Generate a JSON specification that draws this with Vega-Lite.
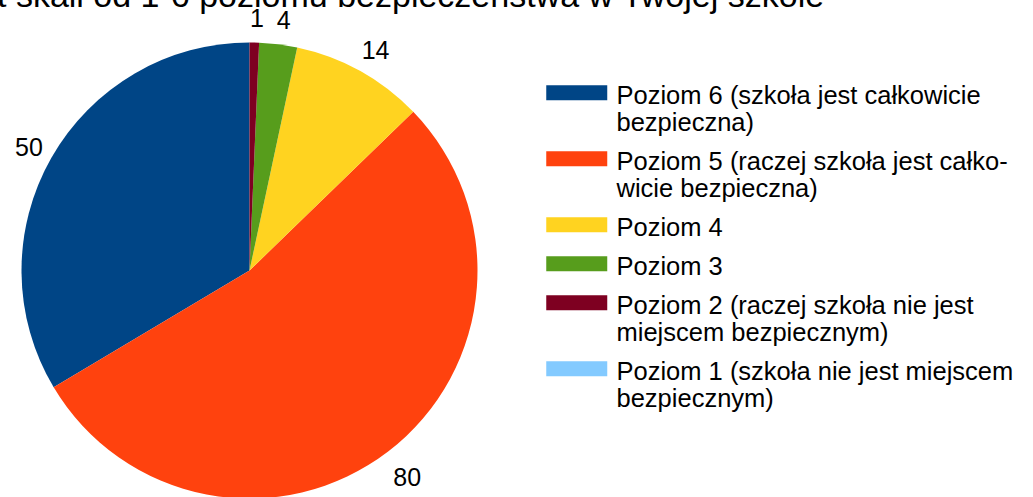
{
  "$schema": "https://vega.github.io/schema/vega-lite/v6.json",
  "width": 499,
  "height": 541,
  "autosize": {"type": "none"},
  "padding": {"left": 0, "top": 0, "right": 534, "bottom": 0},
  "background": "white",
  "title": {
    "text": "t skali od 1-6 poziomu bezpieczeństwa w Twojej szkole",
    "anchor": "start",
    "orient": "top",
    "font": "Liberation Sans",
    "fontSize": 34,
    "fontWeight": "normal",
    "color": "black",
    "baseline": "alphabetic",
    "offset": -41,
    "dx": -3
  },
  "config": {"view": {"stroke": null}},
  "data": {
    "values": [
      {"poziom": "Poziom 6", "value": 50, "ord": 6},
      {"poziom": "Poziom 5", "value": 80, "ord": 5},
      {"poziom": "Poziom 4", "value": 14, "ord": 4},
      {"poziom": "Poziom 3", "value": 4, "ord": 3},
      {"poziom": "Poziom 2", "value": 1, "ord": 2},
      {"poziom": "Poziom 1", "value": 0, "ord": 1}
    ]
  },
  "encoding": {
    "theta": {"field": "value", "type": "quantitative", "stack": true},
    "order": {"field": "ord", "type": "quantitative", "sort": "ascending"}
  },
  "layer": [
    {
      "mark": {"type": "arc", "radius": 228},
      "encoding": {
        "color": {
          "field": "poziom",
          "type": "nominal",
          "scale": {
            "domain": ["Poziom 6", "Poziom 5", "Poziom 4", "Poziom 3", "Poziom 2", "Poziom 1"],
            "range": ["#004586", "#ff420e", "#ffd320", "#579d1c", "#7e0021", "#83caff"]
          },
          "legend": {
            "title": null,
            "orient": "none",
            "legendX": 541,
            "legendY": 71,
            "symbolType": "M-1,0.2H7.133V2.2H-1Z",
            "symbolSize": 225,
            "symbolStrokeWidth": 0,
            "symbolOpacity": 1,
            "labelFont": "Liberation Sans",
            "labelFontSize": 25.5,
            "labelLineHeight": 29,
            "labelColor": "black",
            "labelOffset": 50,
            "labelLimit": 600,
            "labelBaseline": "top",
            "rowPadding": 0,
            "labelExpr": "datum.value == 'Poziom 6' ? ['Poziom 6 (szkoła jest całkowicie', 'bezpieczna)'] : datum.value == 'Poziom 5' ? ['Poziom 5 (raczej szkoła jest całko-', 'wicie bezpieczna)'] : datum.value == 'Poziom 2' ? ['Poziom 2 (raczej szkoła nie jest', 'miejscem bezpiecznym)'] : datum.value == 'Poziom 1' ? ['Poziom 1 (szkoła nie jest miejscem', 'bezpiecznym)'] : datum.value"
          }
        }
      }
    },
    {
      "transform": [{"filter": "datum.value > 0"}],
      "mark": {"type": "text", "radius": 256, "dx": 2, "dy": 4, "font": "Liberation Sans", "fontSize": 25, "color": "black"},
      "encoding": {
        "text": {"field": "value", "type": "quantitative"}
      }
    }
  ]
}
